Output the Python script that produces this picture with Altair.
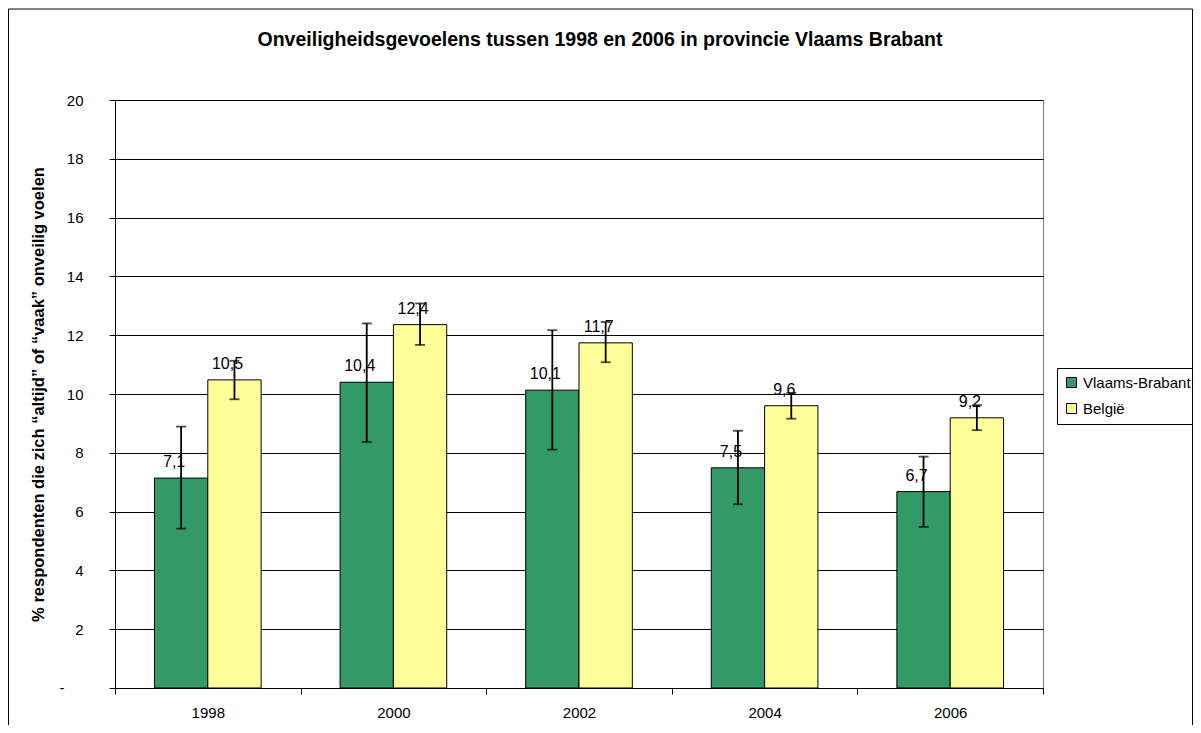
import altair as alt
import pandas as pd

years = ["1998", "2000", "2002", "2004", "2006"]
series = ["Vlaams-Brabant", "België"]
vb_values = [7.14, 10.40, 10.13, 7.49, 6.68]
be_values = [10.48, 12.36, 11.74, 9.60, 9.19]
vb_low = [5.42, 8.37, 8.11, 6.25, 5.48]
vb_high = [8.89, 12.40, 12.17, 8.75, 7.87]
be_low = [9.82, 11.67, 11.08, 9.16, 8.77]
be_high = [11.13, 13.08, 12.45, 10.04, 9.62]
y_ticks = [0, 2, 4, 6, 8, 10, 12, 14, 16, 18, 20]
zero_label = "-"
colors = ["#339966", "#FFFF99"]

rows = []
for i, y in enumerate(years):
    for s, vals, lo, hi in [
        (series[0], vb_values, vb_low, vb_high),
        (series[1], be_values, be_low, be_high),
    ]:
        rows.append({
            "year": y, "series": s, "value": vals[i], "lo": lo[i], "hi": hi[i],
            "label": f"{vals[i]:.1f}".replace(".", ","),
        })
df = pd.DataFrame(rows)

FONT = "Liberation Sans"

x_enc = alt.X(
    "year:N",
    scale=alt.Scale(paddingInner=0, paddingOuter=0),
    axis=alt.Axis(
        title=None, tickBand="extent", labelAngle=0, labelFontSize=15,
        labelPadding=11, tickSize=6, domainColor="black", tickColor="black",
        labelColor="black", grid=False, labelFont=FONT,
    ),
)
xo_enc = alt.XOffset(
    "series:N", sort=series,
    scale=alt.Scale(domain=series, paddingOuter=0.74, paddingInner=0),
)
y_scale = alt.Scale(domain=[0, 20])

base = alt.Chart(df).encode(x=x_enc, xOffset=xo_enc)

bars = base.mark_bar(stroke="black", strokeWidth=1).encode(
    y=alt.Y(
        "value:Q", scale=y_scale,
        axis=alt.Axis(
            values=y_ticks,
            labelExpr="datum.value == 0 ? '' : datum.label",
            tickSize=6, labelPadding=26, labelFontSize=15, labelColor="black",
            domainColor="black", tickColor="black", gridColor="black",
            gridWidth=1, labelFont=FONT,
            title="% respondenten die zich \u201caltijd\u201d of \u201cvaak\u201d onveilig voelen",
            titleFontSize=16.5, titleFontWeight="bold", titleFont=FONT,
            titleColor="black", titleAngle=270, titleX=-77, titleY=294,
            titleAlign="center", titleBaseline="middle",
        ),
    ),
    color=alt.Color(
        "series:N", sort=series,
        scale=alt.Scale(domain=series, range=colors),
        legend=alt.Legend(
            orient="none", legendX=942, legendY=268, title=None,
            strokeColor="black", padding=7, symbolType="square",
            symbolSize=100, symbolStrokeColor="black", symbolStrokeWidth=1,
            labelFontSize=15, labelOffset=4, rowPadding=10,
            labelColor="black", labelFont=FONT,
        ),
    ),
)

err = base.mark_rule(color="black", strokeWidth=1.8).encode(
    y=alt.Y("lo:Q", scale=y_scale), y2="hi:Q"
)
cap_lo = base.mark_tick(color="black", thickness=1.8, size=10).encode(
    y=alt.Y("lo:Q", scale=y_scale)
)
cap_hi = base.mark_tick(color="black", thickness=1.8, size=10).encode(
    y=alt.Y("hi:Q", scale=y_scale)
)
labels = base.mark_text(
    fontSize=16, dx=-7, dy=-11, baseline="alphabetic", align="center",
    color="black", font=FONT,
).encode(y=alt.Y("value:Q", scale=y_scale), text="label:N")

zero_txt = alt.Chart(pd.DataFrame({"t": [zero_label], "v": [0]})).mark_text(
    fontSize=15, font=FONT, color="black", align="center", baseline="middle",
).encode(
    x=alt.value(-53), y=alt.Y("v:Q", scale=y_scale), text="t:N"
)

frame = alt.Chart(pd.DataFrame({"d": [0]})).mark_rect(
    fillOpacity=0, stroke="black", strokeWidth=1
).encode(
    x=alt.value(-106.5), x2=alt.value(1077.5),
    y=alt.value(-91), y2=alt.value(640),
)

chart = alt.layer(bars, err, cap_lo, cap_hi, labels, zero_txt, frame).properties(
    width=928, height=588,
    autosize=alt.AutoSizeParams(type="none"),
    padding={"left": 107, "top": 92, "right": 150, "bottom": 37},
    title=alt.TitleParams(
        "Onveiligheidsgevoelens tussen 1998 en 2006 in provincie Vlaams Brabant",
        fontSize=19.5, font=FONT, fontWeight="bold", anchor="middle",
        frame="group", dx=21, offset=-42, color="black",
    ),
).configure_view(stroke="#808080", strokeWidth=1)

chart.save("out.html", embed_options={"renderer": "svg", "actions": False})
